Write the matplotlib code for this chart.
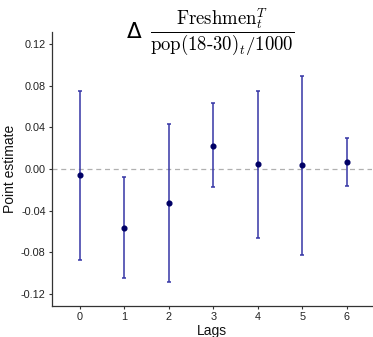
import matplotlib
matplotlib.use("Agg")
import matplotlib.pyplot as plt

# data
lags = [0, 1, 2, 3, 4, 5, 6]
estimate = [-0.0061, -0.0564, -0.033, 0.0224, 0.0045, 0.0035, 0.0064]
ci_low = [-0.087, -0.105, -0.1087, -0.0176, -0.0663, -0.0824, -0.0166]
ci_high = [0.075, -0.008, 0.043, 0.063, 0.075, 0.0897, 0.0295]
yticks = [-0.12, -0.08, -0.04, 0.00, 0.04, 0.08, 0.12]
ytick_labels = ["-0.12", "-0.08", "-0.04", "0.00", "0.04", "0.08", "0.12"]

plt.rcParams["font.family"] = ["Liberation Sans", "DejaVu Sans"]
plt.rcParams["mathtext.fontset"] = "cm"

fig = plt.figure(figsize=(3.73, 3.37), dpi=100)
ax = fig.add_axes([52 / 373, 1 - 306 / 337, 320 / 373, 274 / 337])

# zero reference line
ax.axhline(0, color="#b0b0b0", linestyle=(0, (4, 3)), linewidth=0.9, zorder=1)

err_lo = [e - lo for e, lo in zip(estimate, ci_low)]
err_hi = [hi - e for e, hi in zip(estimate, ci_high)]
ax.errorbar(lags, estimate, yerr=[err_lo, err_hi], fmt="none",
            ecolor="#3535a5", elinewidth=1.1, capsize=1.6, capthick=1.1, zorder=2)
ax.plot(lags, estimate, "o", color="#000066", markersize=3.4, zorder=3)

ax.set_xlim(-0.63, 6.57)
ax.set_ylim(-0.1317, 0.1317)
ax.set_xticks(lags)
ax.set_xticklabels([str(l) for l in lags])
ax.set_yticks(yticks)
ax.set_yticklabels(ytick_labels)

for side in ["top", "right"]:
    ax.spines[side].set_visible(False)
for side in ["left", "bottom"]:
    ax.spines[side].set_color("#333333")
    ax.spines[side].set_linewidth(0.9)
ax.tick_params(axis="both", length=2.5, width=0.8, color="#333333",
               labelsize=7.8, labelcolor="#222222", pad=2)

ax.set_xlabel("Lags", fontsize=10, color="#111111", labelpad=1)
ax.set_ylabel("Point estimate", fontsize=10, color="#111111", labelpad=3)

# title: sans Delta followed by a serif fraction
fig.text(134 / 373, 1 - 32 / 337, "Δ", ha="center", va="center",
         fontsize=15.5, color="black", family="DejaVu Sans")
fig.text(222 / 373, 1 - 32 / 337,
         r"$\dfrac{\mathrm{Freshmen}_t^T}{\mathrm{pop(18\text{-}30)}_t/1000}$",
         ha="center", va="center", fontsize=13.5, color="black")

fig.savefig("out.png", dpi=100)
